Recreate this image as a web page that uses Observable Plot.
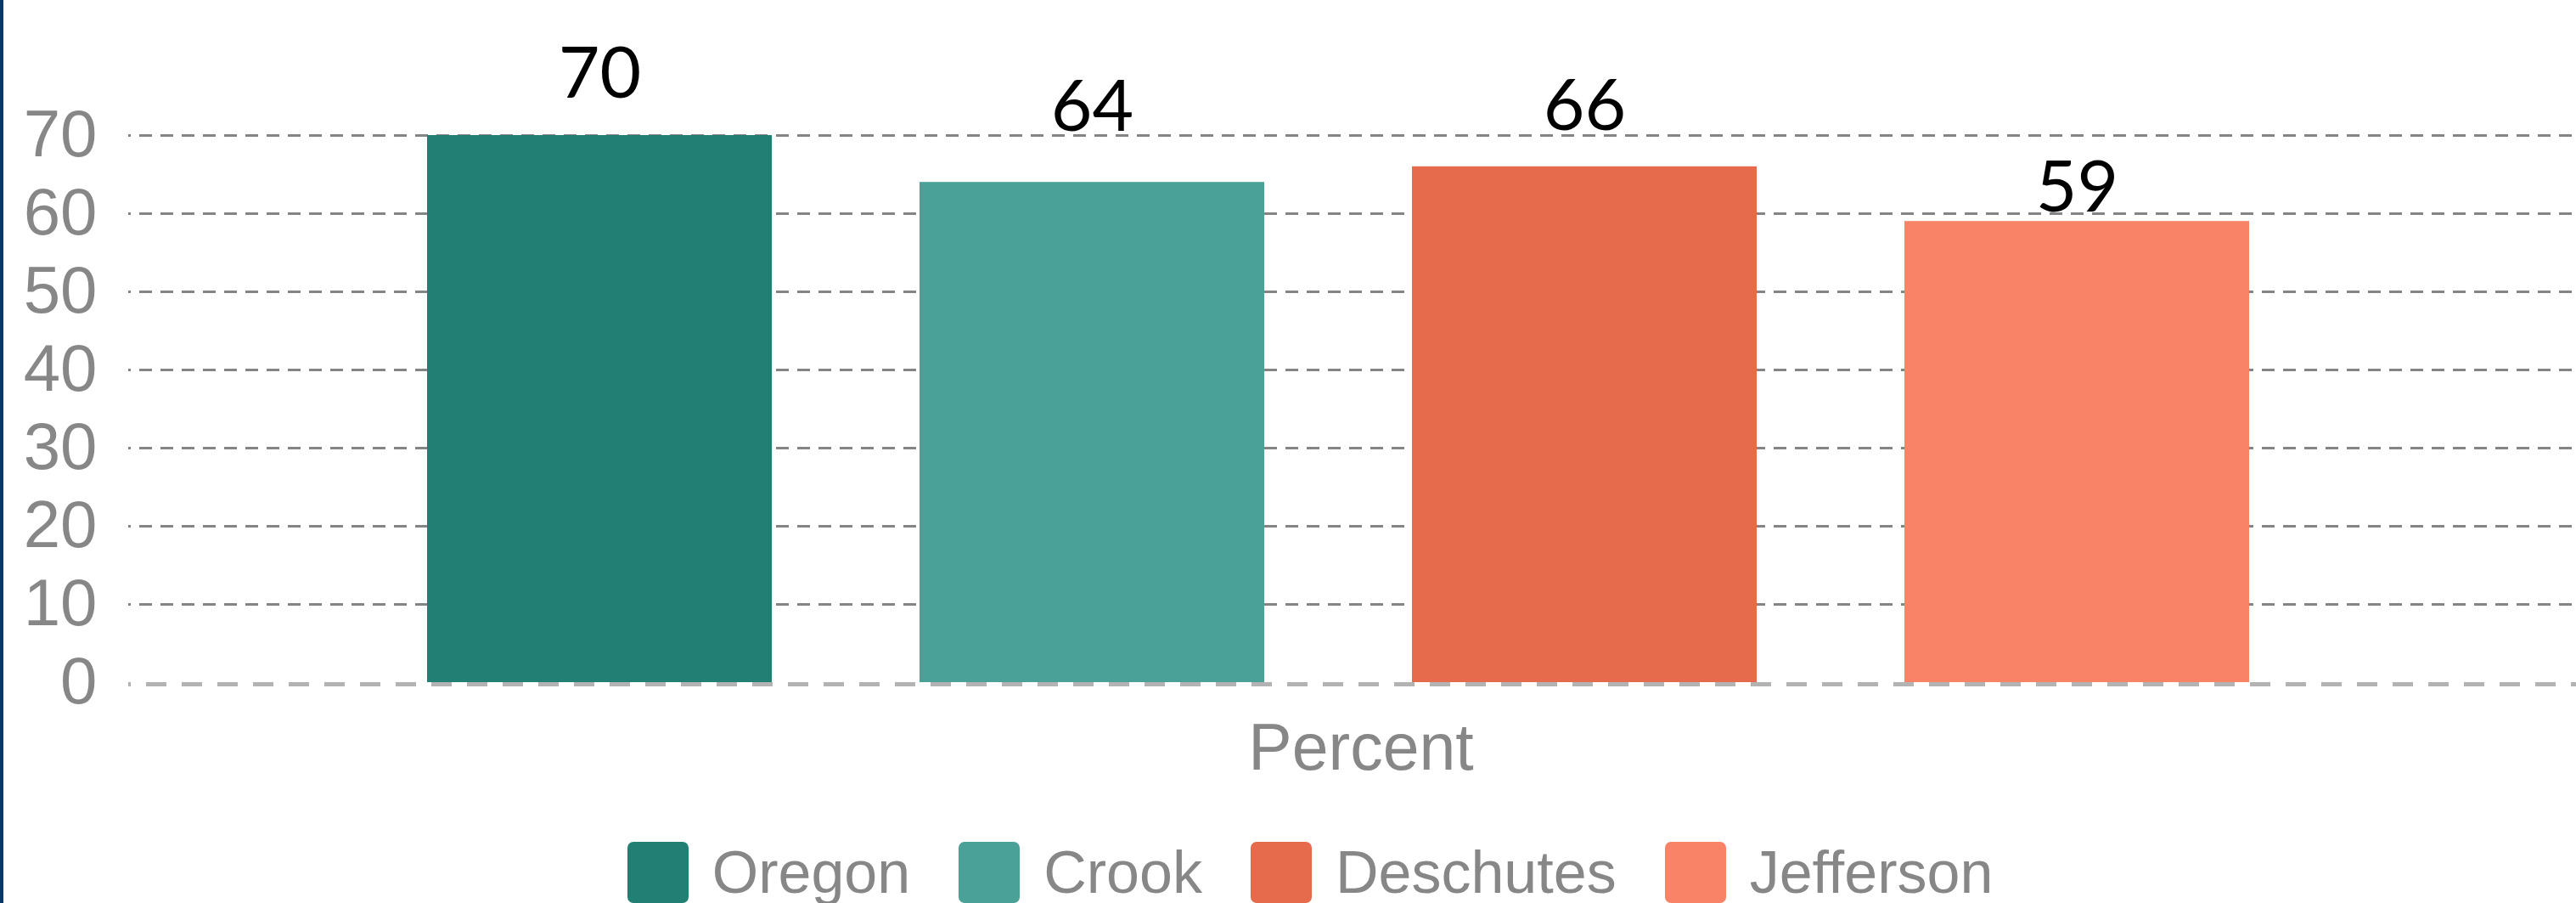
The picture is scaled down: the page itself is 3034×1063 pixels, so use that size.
<!DOCTYPE html>
<html>
<head>
<meta charset="utf-8">
<script src="https://cdn.jsdelivr.net/npm/d3@7"></script>
<script src="https://cdn.jsdelivr.net/npm/@observablehq/plot@0.6"></script>
<style>
  html, body { margin: 0; padding: 0; background: #fff; }
  body { width: 3034px; height: 1063px; overflow: hidden; position: relative; }
  #edge { position: absolute; left: 0; top: 0; width: 4px; height: 1063px; background: #0a3864; }
  #chart svg { display: block; }
  #legend { display: flex; justify-content: center; align-items: flex-start; margin-top: 61px; padding-left: 52px;
            font-family: "Liberation Sans", Arial, sans-serif; font-size: 70px; color: #878787; }
  .item { display: flex; align-items: flex-start; margin-right: 57px; }
  .item:last-child { margin-right: 0; }
  .sw { width: 72px; height: 72px; border-radius: 7px; margin-right: 28px; }
  .lab { line-height: 72px; white-space: nowrap; }
</style>
</head>
<body>
<div id="edge"></div>
<div id="chart"></div>
<div id="legend"></div>
<script>
const counties = ["Oregon", "Crook", "Deschutes", "Jefferson"];
const values = [70, 64, 66, 59];
const colors = ["#227f73", "#4aa197", "#e66b4d", "#f98366"];
const yTicks = [0, 10, 20, 30, 40, 50, 60, 70];
const axisLabel = "Percent";
const labelDy = [-45, -61, -43, -12];

const data = counties.map((c, i) => ({county: c, value: values[i]}));

const labels = data.map((d, i) => Plot.text([d], {
  x: "county", y: "value", text: r => String(r.value),
  dy: labelDy[i], lineAnchor: "bottom", fontSize: 84, fill: "#000",
  fontFamily: "Lato, 'Noto Sans', sans-serif"
}));

const chart = Plot.plot({
  width: 3034, height: 930,
  marginLeft: 151, marginRight: 0, marginTop: 67, marginBottom: 127,
  style: {fontFamily: "'Liberation Sans', Arial, sans-serif", background: "transparent", overflow: "visible"},
  x: {domain: counties, range: [327, 2824], paddingInner: 0.3, paddingOuter: 0.3, axis: null},
  y: {domain: [0, 80], axis: null},
  color: {domain: counties, range: colors},
  marks: [
    Plot.ruleY(yTicks.filter(t => t > 0), {stroke: "#858585", strokeWidth: 3, strokeDasharray: "15,10", strokeDashoffset: 12}),
    Plot.ruleY([0], {stroke: "#b3b3b3", strokeWidth: 5, strokeDasharray: "24,18", strokeDashoffset: 21, dy: 2}),
    Plot.barY(data, {x: "county", y: "value", fill: "county"}),
    ...labels,
    Plot.axisY({ticks: yTicks, tickSize: 0, tickPadding: 37, fontSize: 78, color: "#878787", label: null}),
    Plot.text([axisLabel], {text: d => d, frameAnchor: "bottom", lineAnchor: "bottom", dy: 102, dx: 10, fontSize: 77, fill: "#878787"})
  ]
});
document.getElementById("chart").appendChild(chart);

const legend = document.getElementById("legend");
counties.forEach((c, i) => {
  const item = document.createElement("div");
  item.className = "item";
  const sw = document.createElement("div");
  sw.className = "sw";
  sw.style.background = colors[i];
  const lab = document.createElement("div");
  lab.className = "lab";
  lab.textContent = c;
  item.appendChild(sw);
  item.appendChild(lab);
  legend.appendChild(item);
});
</script>
</body>
</html>
